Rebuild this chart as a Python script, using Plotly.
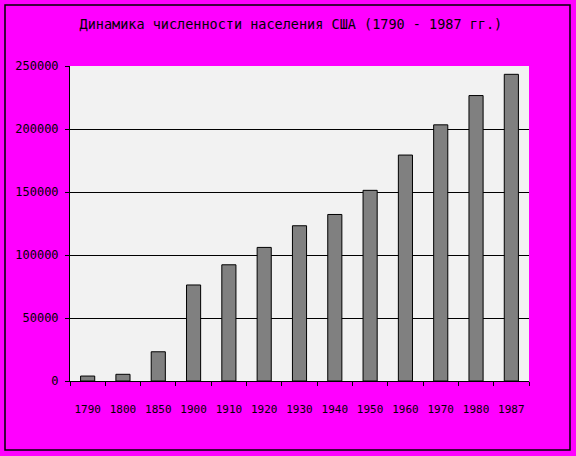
import plotly.graph_objects as go

years = ["1790", "1800", "1850", "1900", "1910", "1920", "1930", "1940",
         "1950", "1960", "1970", "1980", "1987"]
population = [3929, 5308, 23192, 76212, 92228, 106022, 123203, 132165,
              151326, 179323, 203302, 226546, 243400]
y_ticks = [0, 50000, 100000, 150000, 200000, 250000]
title_text = "Динамика численности населения США (1790 - 1987 гг.)"

FONT = "DejaVu Sans Mono, Liberation Mono, monospace"

fig = go.Figure(go.Bar(
    x=years, y=population,
    marker=dict(color="#808080", line=dict(color="black", width=1)),
))

L, R, T, B = 70, 47, 66, 75
W, H = 576, 456
pw, ph = W - L - R, H - T - B

fig.update_layout(
    width=W, height=H,
    margin=dict(l=L, r=R, t=T, b=B),
    paper_bgcolor="#FF00FF",
    plot_bgcolor="#F2F2F2",
    bargap=0.6,
    showlegend=False,
    title=dict(text=title_text, x=0.505, xref="container", xanchor="center",
               y=1 - 24 / H, yref="container", yanchor="middle",
               font=dict(family=FONT, size=13.5, color="black")),
    xaxis=dict(type="category", showline=True, linecolor="black", linewidth=1,
               ticks="outside", tickson="boundaries", ticklen=4, tickcolor="black",
               showgrid=False, ticklabelstandoff=18, tickangle=0,
               tickfont=dict(family=FONT, size=11, color="black")),
    yaxis=dict(range=[0, 250000], tickvals=y_ticks, tickformat="d",
               showline=True, linecolor="black", linewidth=1,
               ticks="outside", ticklen=4, tickcolor="black",
               showgrid=True, gridcolor="black", gridwidth=1,
               zeroline=False, ticklabelstandoff=4,
               tickfont=dict(family=FONT, size=12, color="black")),
    shapes=[dict(type="rect", xref="paper", yref="paper",
                 x0=(5 - L) / pw, x1=(570 - L) / pw,
                 y0=(H - B - 450) / ph, y1=(H - B - 5) / ph,
                 line=dict(color="black", width=1.5), layer="below")],
)

fig.write_html("out.html", config={"displayModeBar": False},
               post_script="document.body.style.margin='0';document.body.style.overflow='hidden';")
